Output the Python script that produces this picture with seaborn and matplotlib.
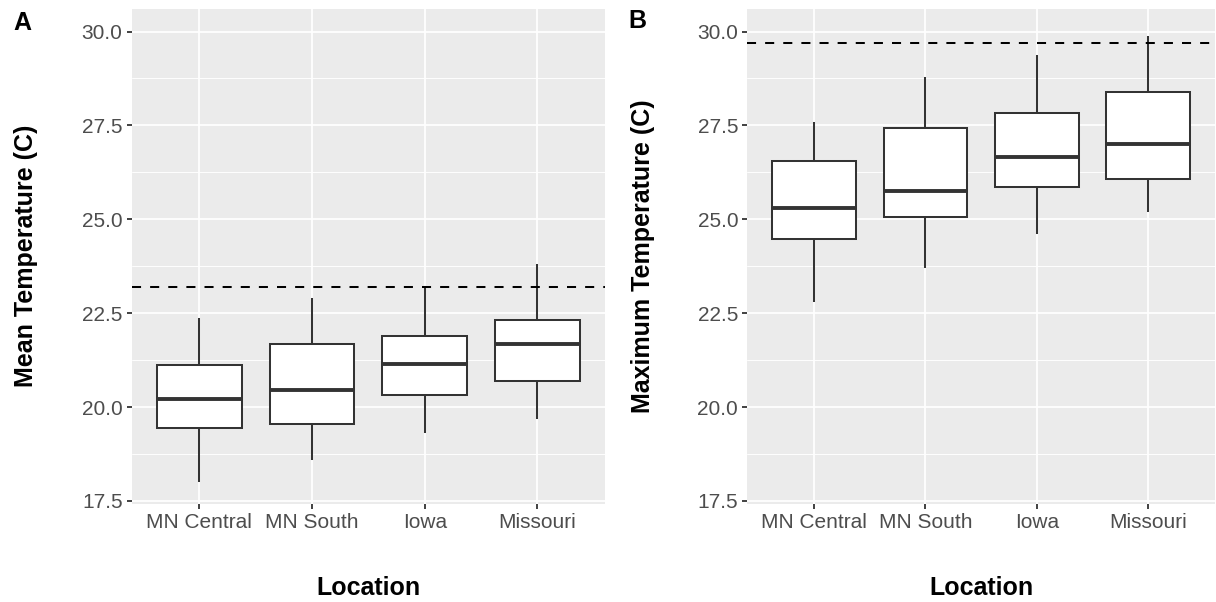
import numpy as np
import pandas as pd
import matplotlib
matplotlib.use("Agg")
import matplotlib.pyplot as plt
import seaborn as sns

# ---- data ----
locations = ["MN Central", "MN South", "Iowa", "Missouri"]

mean_whisker_lo = [18.00, 18.59, 19.30, 19.69]
mean_q1 = [19.43, 19.54, 20.31, 20.69]
mean_median = [20.20, 20.44, 21.15, 21.69]
mean_q3 = [21.12, 21.69, 21.89, 22.32]
mean_whisker_hi = [22.38, 22.89, 23.19, 23.82]
mean_threshold = 23.2

max_whisker_lo = [22.80, 23.70, 24.61, 25.20]
max_q1 = [24.48, 25.07, 25.85, 26.07]
max_median = [25.30, 25.76, 26.66, 27.01]
max_q3 = [26.55, 27.42, 27.83, 28.40]
max_whisker_hi = [27.59, 28.78, 29.38, 29.89]
max_threshold = 29.70

y_ticks = [17.5, 20.0, 22.5, 25.0, 27.5, 30.0]
y_minor = [18.75, 21.25, 23.75, 26.25, 28.75]


def five_number_frame(lo, q1, med, q3, hi):
    rows = []
    for i, loc in enumerate(locations):
        for v in (lo[i], q1[i], med[i], q3[i], hi[i]):
            rows.append({"Location": loc, "value": v})
    return pd.DataFrame(rows)


df_mean = five_number_frame(mean_whisker_lo, mean_q1, mean_median, mean_q3, mean_whisker_hi)
df_max = five_number_frame(max_whisker_lo, max_q1, max_median, max_q3, max_whisker_hi)

sns.set_theme(style="darkgrid")
plt.rcParams["font.family"] = ["Liberation Sans", "DejaVu Sans"]

W, H = 1216, 602
fig = plt.figure(figsize=(W / 100, H / 100), dpi=100)

bottom_px, top_px = 503.5, 9.0
panels = [
    (131.7, 605.0, df_mean, mean_threshold, "Mean Temperature (C)", "A", 13, 30.0),
    (747.3, 1215.0, df_max, max_threshold, "Maximum Temperature (C)", "B", 628, 28.5),
]

for left_px, right_px, df, thr, ylab, letter, lx, ly in panels:
    ax = fig.add_axes([left_px / W, (H - bottom_px) / H,
                       (right_px - left_px) / W, (bottom_px - top_px) / H])
    ax.set_facecolor("#EBEBEB")
    sns.boxplot(data=df, x="Location", y="value", order=locations, ax=ax,
                color="white", linecolor="#333333", linewidth=1.45,
                width=0.75, whis=(0, 100), showcaps=False, showfliers=False,
                medianprops={"color": "#333333", "linewidth": 2.8})
    ax.axhline(thr, color="black", linewidth=1.45, linestyle=(0, (4.5, 4.5)), zorder=5)

    ax.set_xlim(-0.6, len(locations) - 0.4)
    ax.set_ylim(17.43, 30.60)
    ax.set_yticks(y_ticks)
    ax.set_yticklabels([f"{t:.1f}" for t in y_ticks])
    ax.set_yticks(y_minor, minor=True)

    ax.grid(False)
    ax.set_axisbelow(True)
    for t in y_ticks:
        ax.axhline(t, color="white", linewidth=1.25, zorder=0.5)
    for t in y_minor:
        ax.axhline(t, color="white", linewidth=0.65, zorder=0.5)
    for i in range(len(locations)):
        ax.axvline(i, color="white", linewidth=1.25, zorder=0.5)

    for s in ax.spines.values():
        s.set_visible(False)

    ax.tick_params(axis="both", which="major", length=3.6, width=1.3,
                   color="#333333", labelcolor="#4D4D4D", labelsize=15, pad=3,
                   left=True, bottom=True)
    ax.tick_params(axis="y", which="minor", length=0)

    ax.set_xlabel("Location", fontsize=18, fontweight="bold", color="black")
    ax.xaxis.set_label_coords(0.5, -0.185)
    ax.xaxis.label.set_va("baseline")
    ax.set_ylabel(ylab, fontsize=18, fontweight="bold", color="black")
    ax.yaxis.set_label_coords(-0.197, 0.5)

    fig.text(lx / W, (H - ly) / H, letter, fontsize=18, fontweight="bold",
             ha="left", va="baseline", color="black")

fig.savefig("out.png", dpi=100, facecolor="white")
